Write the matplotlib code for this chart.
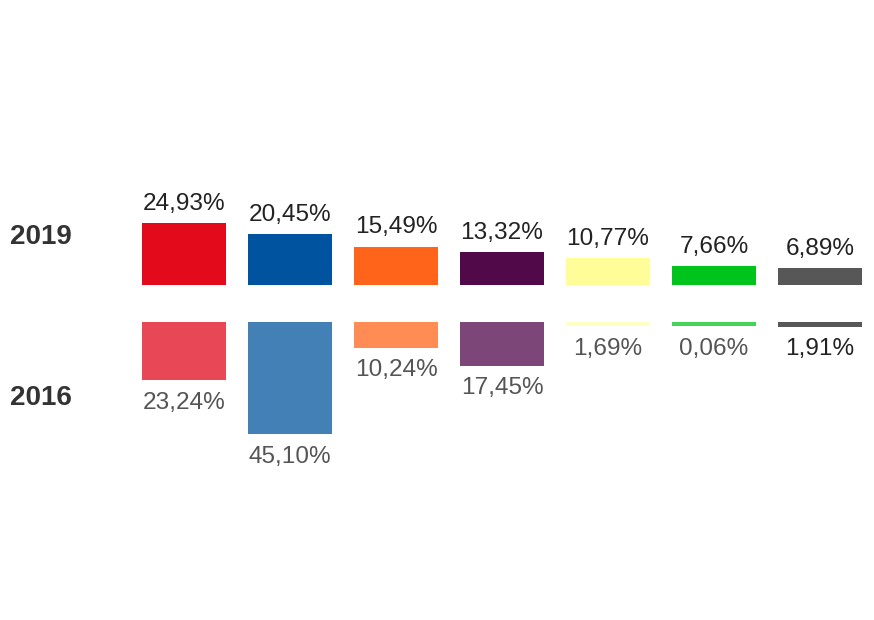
import numpy as np
import matplotlib
matplotlib.use('Agg')
import matplotlib.pyplot as plt

plt.rcParams['font.family'] = ['Liberation Sans', 'DejaVu Sans']

# vote shares per party, same order in both rows
votes_2019 = [24.93, 20.45, 15.49, 13.32, 10.77, 7.66, 6.89]
votes_2016 = [23.24, 45.10, 10.24, 17.45, 1.69, 0.06, 1.91]

colors_2019 = ['#E30A1B', '#00539F', '#FF641A', '#52094A', '#FFFD98', '#00C31C', '#575757']
colors_2016 = ['#E84855', '#4280B6', '#FF8C55', '#7C4678', '#FFFFC4', '#44D45A', '#575757']
text_2016 = ['#555555'] * 6 + ['#222222']

row_labels = ['2019', '2016']

def fmt(v):
    return ('%.2f%%' % v).replace('.', ',')

fig = plt.figure(figsize=(8.74, 6.2), dpi=100)
ax = fig.add_axes([0, 0, 1, 1])

gap = 14.9          # space between the two rows, in % units
min_h = 1.6         # tiny bars still get drawn visibly
x = np.arange(len(votes_2019))
w = 0.79

h19 = np.maximum(votes_2019, min_h)
h16 = np.maximum(votes_2016, min_h)

ax.bar(x, h19, width=w, bottom=0, color=colors_2019, align='center')
ax.bar(x, -h16, width=w, bottom=-gap, color=colors_2016, align='center')

for i in range(len(x)):
    ax.annotate(fmt(votes_2019[i]), (x[i], h19[i]), xytext=(0, 9.5),
                textcoords='offset points', ha='center', va='baseline',
                fontsize=17.6, color='#222222')
    ax.annotate(fmt(votes_2016[i]), (x[i], -gap - h16[i]), xytext=(0, -20.5),
                textcoords='offset points', ha='center', va='baseline',
                fontsize=17.6, color=text_2016[i])

# row titles on the left
ax.text(-1.64, 19.5, row_labels[0], ha='left', va='center',
        fontsize=20, fontweight='bold', color='#333333')
ax.text(-1.64, -45.3, row_labels[1], ha='left', va='center',
        fontsize=20, fontweight='bold', color='#333333')

ax.set_xlim(-1.736, 6.509)
ax.set_ylim(-134.5, 114.5)
ax.axis('off')

fig.savefig('out.png', dpi=100)
